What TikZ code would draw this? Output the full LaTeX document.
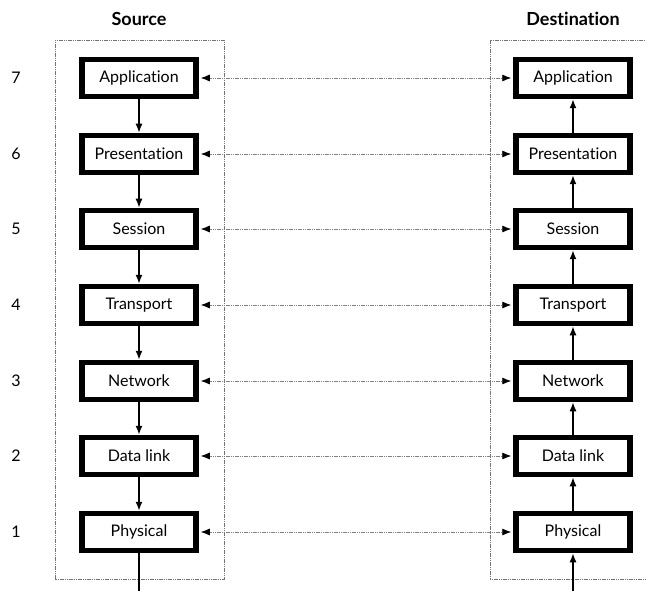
\documentclass[tikz,border=0pt]{standalone}
\usepackage{fontspec}
\setmainfont{Lato}[Ligatures={NoCommon}]
\usetikzlibrary{arrows.meta}
\begin{document}
\begin{tikzpicture}[x=1pt,y=-1pt,
  layer/.style={draw=black,line width=5.5pt,fill=white,minimum width=114pt,minimum height=37pt,inner sep=0pt,font=\fontsize{16}{18}\selectfont},
  stack/.style={draw=black!55,dash pattern=on 1.2pt off 0.6pt,line width=0.8pt},
  peer/.style={draw=black!50,dash pattern=on 1.2pt off 0.6pt,line width=0.8pt,{Latex[length=9pt,width=7pt,black]}-{Latex[length=9pt,width=7pt,black]}},
  flow/.style={line width=1.4pt,-{Latex[length=9pt,width=7pt]}},
  num/.style={font=\fontsize{16}{18}\selectfont},
  head/.style={font=\fontsize{18}{20}\selectfont\bfseries}]
\useasboundingbox (0,0) rectangle (646,591);
% protocol stacks
\draw[stack] (55,40) rectangle (224,579);
\draw[stack] (490,579) -- (490,40) -- (650,40);
\draw[stack] (490,579) -- (650,579);
\node[head] (hs) at (139,19) {Source};
\node[head] (hd) at (573,19) {Destination};
% layers
\foreach \n/\name/\y in {7/Application/78,6/Presentation/154,5/Session/229,4/Transport/305,3/Network/381,2/Data link/456,1/Physical/532}{
  \node[num] (n\n) at (16,\y) {\n};
  \node[layer] (s\n) at (139,\y) {\name};
  \node[layer] (d\n) at (573,\y) {\name};
  \draw[peer] ([xshift=2pt]s\n.east) -- ([xshift=-2pt]d\n.west);
}
% data flow down the source stack and up the destination stack
\foreach \a/\b in {7/6,6/5,5/4,4/3,3/2,2/1}{
  \draw[flow] (s\a.south) -- (s\b.north);
  \draw[flow] (d\b.north) -- (d\a.south);
}
\coordinate (sout) at (139,591);
\coordinate (din) at (573,591);
\draw[line width=1.4pt] (s1.south) -- (sout);
\draw[flow] (din) -- (d1.south);
\end{tikzpicture}
\end{document}
